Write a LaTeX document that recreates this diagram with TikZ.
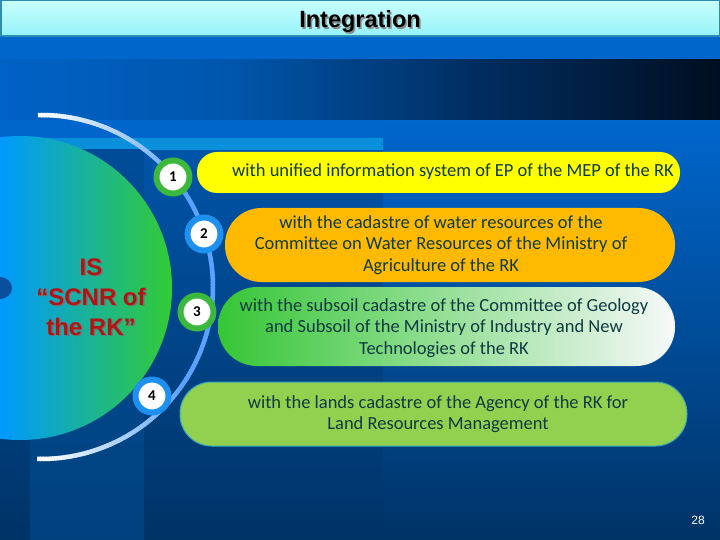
\documentclass[tikz,border=0pt]{standalone}
\usepackage{fontspec}
\setmainfont{Carlito}
\newfontfamily\arialfont{Liberation Sans}
\definecolor{bgtop}{HTML}{0066CC}
\definecolor{bgleft}{HTML}{0054A8}
\definecolor{bgbot}{HTML}{003366}
\definecolor{bandA}{HTML}{0062C6}
\definecolor{bandB}{HTML}{0056AC}
\definecolor{bandC}{HTML}{002E62}
\definecolor{bandD}{HTML}{000E20}
\definecolor{lightband}{HTML}{0A90DB}
\definecolor{stripetop}{HTML}{004C98}
\definecolor{stripebot}{HTML}{00427E}
\definecolor{circL}{HTML}{0099FF}
\definecolor{circR}{HTML}{33CC33}
\definecolor{blob}{HTML}{0A4F9E}
\definecolor{arcblue}{HTML}{5AA2FF}
\definecolor{yel}{HTML}{FFFF00}
\definecolor{orng}{HTML}{FFBA00}
\definecolor{gthreeL}{HTML}{36C636}
\definecolor{gthreeR}{HTML}{F6F9F9}
\definecolor{lime}{HTML}{92D050}
\definecolor{limeedge}{HTML}{38A8B8}
\definecolor{txt}{HTML}{0F3A40}
\definecolor{ringgreen}{HTML}{3CB93C}
\definecolor{ringblue}{HTML}{1E90F0}
\definecolor{isred}{HTML}{B01515}
\definecolor{hdtop}{HTML}{C8FEFF}
\definecolor{hdbot}{HTML}{94F2F8}
\definecolor{hdedge}{HTML}{2C8CB4}
\tikzset{
  boxtext/.style={align=center, text=txt, inner sep=0pt, font=\fontsize{18.5}{21.3}\selectfont},
  numgreen/.style={circle, fill=white, draw=ringgreen, line width=6pt, minimum size=33pt, inner sep=0pt, font=\fontsize{15}{15}\selectfont\bfseries},
  numblue/.style={numgreen, draw=ringblue},
  istext/.style={align=center, inner sep=0pt, font=\arialfont\bfseries\fontsize{24}{30}\selectfont},
  titletext/.style={inner sep=0pt, font=\arialfont\bfseries\fontsize{23.5}{23.5}\selectfont},
  arcline/.style={line width=4.5pt, line cap=butt}
}
\begin{document}
\begin{tikzpicture}[x=1pt,y=-1pt]
\useasboundingbox (0,0) rectangle (720,540);
% background
\fill[bgtop] (0,0) rectangle (720,151);
\shade[top color=bgleft, bottom color=bgbot] (0,150) rectangle (384,540);
\shade[top color=bgtop, bottom color=bgbot] (383,120) rectangle (720,540);
% dark band
\shade[left color=bandA, right color=bandB] (0,60) rectangle (231,120);
\shade[left color=bandB, right color=bandC] (230,60) rectangle (471,120);
\shade[left color=bandC, right color=bandD] (470,60) rectangle (720,120);
% light band
\fill[lightband] (12,138) rectangle (383,150);
% vertical stripe
\shade[top color=stripetop, bottom color=stripebot] (30,150) rectangle (144,540);
% big circle
\begin{scope}
  \clip (20,288) circle[radius=152];
  \shade[left color=circL, right color=circR] (0,130) rectangle (173,450);
\end{scope}
\fill[blob] (0,288) ellipse[x radius=12, y radius=11];
% arc
\foreach \a in {-91,-90,...,90} {
  \pgfmathsetmacro\w{min(100,max(0,(abs(\a+0.5)-35)/55*100))}
  \draw[arcline, color=white!\w!arcblue] ({41+172*cos(\a)},{287+172*sin(\a)}) -- ({41+172*cos(\a+1.3)},{287+172*sin(\a+1.3)});
}
% IS text
\node[istext, text=black!55] (isshadow) at (92.5,298.5) {IS\\“SCNR of\\the RK”};
\node[istext, text=isred] (is) at (91,297) {IS\\“SCNR of\\the RK”};
% boxes
\fill[yel, rounded corners=20pt] (197,152) rectangle (680,193);
\node[boxtext] (t1) at (453,172) {with unified information system of EP of the MEP of the RK};
\fill[orng, rounded corners=36.5pt] (225,208) rectangle (675,282);
\node[boxtext] (t2) at (441,245) {with the cadastre of water resources of the\\Committee on Water Resources of the Ministry of\\Agriculture of the RK};
\shade[left color=gthreeL, right color=gthreeR, rounded corners=39pt] (218,287) rectangle (675,366);
\node[boxtext] (t3) at (444,328) {with the subsoil cadastre of the Committee of Geology\\and Subsoil of the Ministry of Industry and New\\Technologies of the RK};
\filldraw[fill=lime, draw=limeedge, line width=1pt, rounded corners=31.5pt] (180,382) rectangle (687,446);
\node[boxtext] (t4) at (438,414) {with the lands cadastre of the Agency of the RK for\\Land Resources Management};
% number circles
\node[numgreen] (n1) at (173,177) {1};
\node[numblue] (n2) at (204,234) {2};
\node[numgreen] (n3) at (197,312) {3};
\node[numblue] (n4) at (152,396) {4};
% header
\shade[top color=hdtop, bottom color=hdbot] (0,0) rectangle (720,37);
\draw[hdedge, line width=1.5pt] (0.75,0.75) rectangle (719.25,36.25);
\node[titletext, text=black!45] (titleshadow) at (361.5,23) {Integration};
\node[titletext, text=black] (title) at (360,21.5) {Integration};
% page number
\node[inner sep=0pt, text=white, font=\arialfont\fontsize{12}{12}\selectfont] (page) at (698,520) {28};
\end{tikzpicture}
\end{document}
